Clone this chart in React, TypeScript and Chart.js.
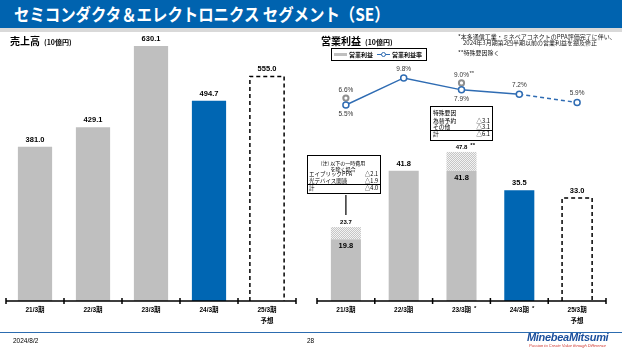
import React, { useEffect, useRef } from 'react';
import { Chart, registerables } from 'chart.js';

Chart.register(...registerables);

// ---------------- data ----------------
const CATEGORIES = ['21/3期', '22/3期', '23/3期', '24/3期', '25/3期'];
const CATEGORY_SUB = ['', '', '', '', '予想'];
const SALES_CATEGORY_MARK = ['', '', '', '', ''];
const OP_CATEGORY_MARK = ['', '', '*', '*', ''];
const BAR_KIND = ['past', 'past', 'past', 'current', 'forecast'];
const SALES = [381.0, 429.1, 630.1, 494.7, 555.0];
const OP_PROFIT = [19.8, 41.8, 41.8, 35.5, 33.0];
const OP_SPECIAL = [3.9, 0, 6.0, 0, 0];
const OP_TOTAL_MARK = ['', '', '**', '', ''];
const OP_MARGIN = [5.5, 9.8, 7.9, 7.2, 5.9];
const OP_MARGIN_LABEL_POS = ['below', 'above', 'below', 'above', 'above'];
const OP_MARGIN_EX = [6.6, null, 9.0, null, null];
const OP_MARGIN_EX_MARK = ['', '', '**', '', ''];
const NOTE1_HEAD = ['(注) 以下の一時費用', 'を除く場合'];
const NOTE1_ROWS = [['エイブリックPPA', '△2.1'], ['光デバイス関連', '△1.9']];
const NOTE1_TOTAL = ['計', '△4.0'];
const NOTE2_HEAD = '特殊要因';
const NOTE2_ROWS = [['為替予約', '△3.1'], ['その他', '△3.1']];
const NOTE2_TOTAL = ['計', '△6.1'];

// ---------------- style ----------------
const FONT = '"Liberation Sans", "Noto Sans CJK JP", sans-serif';
const JP = '"Noto Sans CJK JP", "Liberation Sans", sans-serif';
const GRAY = '#bfbfbf';
const BLUE = '#0066b3';
const LINE_BLUE = '#2f6cb3';
const EX_GRAY = '#8f8f8f';

const barColor = (k: string) => (k === 'past' ? GRAY : k === 'current' ? BLUE : 'rgba(0,0,0,0)');

function makePattern(): CanvasPattern | string {
  const c = document.createElement('canvas');
  c.width = 2;
  c.height = 2;
  const g = c.getContext('2d');
  if (!g) return '#e0e0e0';
  g.fillStyle = '#f3f3f3';
  g.fillRect(0, 0, 2, 2);
  g.fillStyle = '#c6c6c6';
  g.fillRect(0, 0, 1, 1);
  g.fillRect(1, 1, 1, 1);
  return g.createPattern(c, 'repeat') || '#e0e0e0';
}

const axisPlugin = (marks: string[]) => ({
  id: 'customAxis',
  afterDraw(chart: any) {
    const { ctx, chartArea } = chart;
    const { left, right, bottom } = chartArea;
    const xs = chart.scales.x;
    const n = CATEGORIES.length;
    ctx.save();
    ctx.setLineDash([]);
    ctx.strokeStyle = '#000';
    ctx.lineWidth = 1.5;
    ctx.beginPath();
    ctx.moveTo(left, bottom);
    ctx.lineTo(right, bottom);
    for (let i = 0; i <= n; i++) {
      const x =
        i === 0 ? left : i === n ? right : (xs.getPixelForValue(i - 1) + xs.getPixelForValue(i)) / 2;
      ctx.moveTo(x, bottom - 3);
      ctx.lineTo(x, bottom + 3);
    }
    ctx.stroke();
    ctx.fillStyle = '#000';
    ctx.textBaseline = 'middle';
    CATEGORIES.forEach((c, i) => {
      const x = xs.getPixelForValue(i);
      ctx.font = `bold 6.5px ${FONT}`;
      ctx.textAlign = 'center';
      ctx.fillText(c, x, bottom + 9);
      const w = ctx.measureText(c).width;
      if (marks[i]) {
        ctx.font = `bold 6px ${FONT}`;
        ctx.textAlign = 'left';
        ctx.fillText(marks[i], x + w / 2 + 3, bottom + 7);
      }
      if (CATEGORY_SUB[i]) {
        ctx.font = `bold 6.5px ${FONT}`;
        ctx.textAlign = 'center';
        ctx.fillText(CATEGORY_SUB[i], x, bottom + 20);
      }
    });
    ctx.restore();
  },
});

const forecastOutline = (datasetIndex: number) => ({
  id: 'forecastOutline',
  afterDatasetsDraw(chart: any) {
    const meta = chart.getDatasetMeta(datasetIndex);
    const ctx = chart.ctx;
    ctx.save();
    ctx.strokeStyle = '#000';
    ctx.lineWidth = 1.5;
    ctx.setLineDash([4, 3]);
    meta.data.forEach((bar: any, i: number) => {
      if (BAR_KIND[i] !== 'forecast') return;
      const { x, y, base, width } = bar.getProps(['x', 'y', 'base', 'width'], true);
      ctx.beginPath();
      ctx.moveTo(x - width / 2, base);
      ctx.lineTo(x - width / 2, y);
      ctx.lineTo(x + width / 2, y);
      ctx.lineTo(x + width / 2, base);
      ctx.stroke();
    });
    ctx.restore();
  },
});

const salesLabels = {
  id: 'salesLabels',
  afterDatasetsDraw(chart: any) {
    const meta = chart.getDatasetMeta(0);
    const ctx = chart.ctx;
    ctx.save();
    ctx.fillStyle = '#000';
    ctx.font = `bold 7.5px ${FONT}`;
    ctx.textAlign = 'center';
    ctx.textBaseline = 'middle';
    meta.data.forEach((bar: any, i: number) => {
      ctx.fillText(SALES[i].toFixed(1), bar.x, bar.y - 7);
    });
    ctx.restore();
  },
};

// note connector bottoms in canvas coordinates (layout only)
const NOTE_ANCHORS = [
  { index: 0, fromY: 163 },
  { index: 2, fromY: 109 },
];

const opLabels = {
  id: 'opLabels',
  afterDatasetsDraw(chart: any) {
    const ctx = chart.ctx;
    const lineMeta = chart.getDatasetMeta(0);
    const exMeta = chart.getDatasetMeta(1);
    const solidMeta = chart.getDatasetMeta(2);
    const extraMeta = chart.getDatasetMeta(3);
    ctx.save();
    ctx.fillStyle = '#000';
    ctx.textBaseline = 'middle';
    solidMeta.data.forEach((bar: any, i: number) => {
      const x = bar.x;
      if (OP_SPECIAL[i] > 0) {
        const top = extraMeta.data[i].y;
        const total = (OP_PROFIT[i] + OP_SPECIAL[i]).toFixed(1);
        ctx.font = `bold 6px ${FONT}`;
        ctx.textAlign = 'center';
        ctx.fillText(total, x, top - 5);
        if (OP_TOTAL_MARK[i]) {
          const w = ctx.measureText(total).width;
          ctx.textAlign = 'left';
          ctx.fillText(OP_TOTAL_MARK[i], x + w / 2 + 3, top - 7);
        }
        ctx.font = `bold 7.5px ${FONT}`;
        ctx.textAlign = 'center';
        ctx.fillText(OP_PROFIT[i].toFixed(1), x, bar.y + 7);
      } else {
        ctx.font = `bold 7.5px ${FONT}`;
        ctx.textAlign = 'center';
        ctx.fillText(OP_PROFIT[i].toFixed(1), x, bar.y - 7);
      }
    });
    ctx.strokeStyle = '#000';
    ctx.lineWidth = 1.2;
    ctx.setLineDash([]);
    NOTE_ANCHORS.forEach(({ index, fromY }) => {
      const x = solidMeta.data[index].x;
      const toY = extraMeta.data[index].y - 12;
      if (toY > fromY) {
        ctx.beginPath();
        ctx.moveTo(x, fromY);
        ctx.lineTo(x, toY);
        ctx.stroke();
      }
    });
    ctx.fillStyle = '#333';
    ctx.font = `6.5px ${FONT}`;
    ctx.textAlign = 'center';
    lineMeta.data.forEach((pt: any, i: number) => {
      const dy = OP_MARGIN_LABEL_POS[i] === 'above' ? -9 : 9;
      ctx.fillText(OP_MARGIN[i].toFixed(1) + '%', pt.x, pt.y + dy);
    });
    exMeta.data.forEach((pt: any, i: number) => {
      const v = OP_MARGIN_EX[i];
      if (v == null) return;
      const t = v.toFixed(1) + '%';
      ctx.font = `6.5px ${FONT}`;
      ctx.textAlign = 'center';
      ctx.fillText(t, pt.x, pt.y - 8);
      if (OP_MARGIN_EX_MARK[i]) {
        const w = ctx.measureText(t).width;
        ctx.textAlign = 'left';
        ctx.font = `6px ${FONT}`;
        ctx.fillText(OP_MARGIN_EX_MARK[i], pt.x + w / 2 + 0.5, pt.y - 10);
      }
    });
    ctx.restore();
  },
};

// ---------------- small html helpers ----------------
function T(props: {
  x: number;
  y: number;
  size: number;
  bold?: boolean;
  color?: string;
  align?: 'left' | 'center' | 'right';
  font?: string;
  style?: React.CSSProperties;
  children: React.ReactNode;
}) {
  const { x, y, size, bold, color, align = 'left', font, style, children } = props;
  const W = 400;
  const left = align === 'center' ? x - W / 2 : align === 'right' ? x - W : x;
  return (
    <div
      style={{
        position: 'absolute',
        left,
        width: align === 'left' ? undefined : W,
        textAlign: align,
        top: y - size,
        height: size * 2,
        lineHeight: `${size * 2}px`,
        fontSize: size,
        fontWeight: bold ? 700 : 400,
        color: color || '#000',
        fontFamily: font || FONT,
        whiteSpace: 'nowrap',
        ...style,
      }}
    >
      {children}
    </div>
  );
}

function Box(props: { left: number; top: number; width: number; height: number; children?: React.ReactNode }) {
  const { left, top, width, height, children } = props;
  return (
    <div
      style={{
        position: 'absolute',
        left,
        top,
        width,
        height,
        border: '1.5px solid #000',
        boxSizing: 'border-box',
        background: '#fff',
      }}
    >
      {children}
    </div>
  );
}

export default function App() {
  const leftRef = useRef<HTMLCanvasElement | null>(null);
  const rightRef = useRef<HTMLCanvasElement | null>(null);

  useEffect(() => {
    if (!leftRef.current || !rightRef.current) return;
    const left = new Chart(leftRef.current, {
      type: 'bar',
      data: {
        labels: CATEGORIES,
        datasets: [
          {
            label: '売上高',
            data: SALES,
            backgroundColor: BAR_KIND.map(barColor),
            borderWidth: 0,
            barPercentage: 0.59,
            categoryPercentage: 1,
          },
        ],
      },
      options: {
        responsive: false,
        animation: false,
        devicePixelRatio: 1,
        layout: { padding: { left: 6, right: 9, top: 12, bottom: 49 } },
        plugins: { legend: { display: false }, tooltip: { enabled: false } },
        scales: {
          x: { display: false },
          y: { display: false, min: 0, max: 635 },
        },
      },
      plugins: [forecastOutline(0), salesLabels, axisPlugin(SALES_CATEGORY_MARK)],
    } as any);

    const pattern = makePattern();
    const right = new Chart(rightRef.current, {
      type: 'bar',
      data: {
        labels: CATEGORIES,
        datasets: [
          {
            type: 'line',
            label: '営業利益率',
            data: OP_MARGIN,
            yAxisID: 'y2',
            borderColor: LINE_BLUE,
            borderWidth: 1.5,
            pointRadius: 3,
            pointBackgroundColor: '#fff',
            pointBorderColor: LINE_BLUE,
            pointBorderWidth: 1.5,
            tension: 0,
            order: 0,
            segment: {
              borderDash: (c: any) => (BAR_KIND[c.p1DataIndex] === 'forecast' ? [4, 3] : undefined),
            },
          },
          {
            type: 'line',
            label: '営業利益率(特殊要因除く)',
            data: OP_MARGIN_EX,
            yAxisID: 'y2',
            showLine: false,
            pointRadius: 2.6,
            pointBackgroundColor: '#fff',
            pointBorderColor: EX_GRAY,
            pointBorderWidth: 2,
            order: 1,
          },
          {
            type: 'bar',
            label: '営業利益',
            data: OP_PROFIT,
            yAxisID: 'y',
            stack: 'op',
            backgroundColor: BAR_KIND.map(barColor),
            borderWidth: 0,
            barPercentage: 0.52,
            categoryPercentage: 1,
            order: 2,
          },
          {
            type: 'bar',
            label: '特殊要因',
            data: OP_SPECIAL,
            yAxisID: 'y',
            stack: 'op',
            backgroundColor: pattern,
            borderWidth: 0,
            barPercentage: 0.52,
            categoryPercentage: 1,
            order: 2,
          },
        ],
      },
      options: {
        responsive: false,
        animation: false,
        devicePixelRatio: 1,
        layout: { padding: { left: 12, right: 16, top: 12, bottom: 49 } },
        plugins: { legend: { display: false }, tooltip: { enabled: false } },
        scales: {
          x: { display: false, stacked: true },
          y: { display: false, stacked: true, min: 0, max: 82.4 },
          y2: { display: false, position: 'right', min: -25.7, max: 15.2 },
        },
      },
      plugins: [forecastOutline(2), opLabels, axisPlugin(OP_CATEGORY_MARK)],
    } as any);

    return () => {
      left.destroy();
      right.destroy();
    };
  }, []);

  return (
    <div
      style={{
        position: 'fixed',
        left: 0,
        top: 0,
        width: 622,
        height: 350,
        overflow: 'hidden',
        background: '#fff',
        fontFamily: FONT,
      }}
    >
      {/* header */}
      <div style={{ position: 'absolute', left: 0, top: 0, width: 622, height: 28, background: '#0063af' }} />
      <div style={{ position: 'absolute', left: 0, top: 28, width: 622, height: 4, background: '#d9d9d9' }} />
      <div
        style={{
          position: 'absolute',
          left: 14,
          top: 0,
          height: 28,
          lineHeight: '28px',
          color: '#fff',
          fontFamily: JP,
          fontWeight: 700,
          fontSize: 17.5,
          transform: 'scaleX(0.88)',
          transformOrigin: 'left center',
          whiteSpace: 'nowrap',
        }}
      >
        セミコンダクタ＆エレクトロニクス セグメント（SE）
      </div>

      {/* charts */}
      <canvas ref={leftRef} width={305} height={318} style={{ position: 'absolute', left: 0, top: 32, width: 305, height: 318 }} />
      <canvas ref={rightRef} width={317} height={318} style={{ position: 'absolute', left: 305, top: 32, width: 317, height: 318 }} />

      {/* headings */}
      <T x={10} y={41} size={10} bold font={JP}>
        売上高
      </T>
      <T x={44} y={42} size={7} bold font={JP}>
        (10億円)
      </T>
      <T x={321} y={41} size={10} bold font={JP}>
        営業利益
      </T>
      <T x={365} y={42} size={7} bold font={JP}>
        (10億円)
      </T>

      {/* legend */}
      <div
        style={{
          position: 'absolute',
          left: 331,
          top: 48,
          width: 96,
          height: 13,
          border: '1.5px solid #000',
          boxSizing: 'border-box',
        }}
      />
      <div style={{ position: 'absolute', left: 334, top: 52.5, width: 13, height: 3.5, background: GRAY }} />
      <T x={349} y={54.5} size={6} bold font={JP}>
        営業利益
      </T>
      <div style={{ position: 'absolute', left: 377, top: 53.7, width: 13, height: 1.6, background: LINE_BLUE }} />
      <div
        style={{
          position: 'absolute',
          left: 381,
          top: 52,
          width: 5,
          height: 5,
          borderRadius: '50%',
          border: `1.3px solid ${LINE_BLUE}`,
          background: '#fff',
          boxSizing: 'border-box',
        }}
      />
      <T x={392} y={54.5} size={6} bold font={JP}>
        営業利益率
      </T>

      {/* top right notes */}
      <T x={458} y={37} size={6} font={JP} color="#222">
        *本多通信工業・ミネベアコネクトのPPA評価完了に伴い、
      </T>
      <T x={463} y={43} size={6} font={JP} color="#222">
        2024年3月期第2四半期以前の営業利益を遡及修正
      </T>
      <T x={458} y={53} size={6} font={JP} color="#222">
        **特殊要因除く
      </T>

      {/* note box 1 */}
      <Box left={307} top={155} width={74} height={39}>
        <T x={35} y={7} size={5} align="center" font={JP}>
          {NOTE1_HEAD[0]}
        </T>
        <T x={35} y={12.5} size={5} align="center" font={JP}>
          {NOTE1_HEAD[1]}
        </T>
        {NOTE1_ROWS.map((r, i) => (
          <React.Fragment key={i}>
            <T x={1} y={18 + i * 7.3} size={5.5} font={JP}>
              {r[0]}
            </T>
            <T x={70} y={18 + i * 7.3} size={5.5} align="right" font={JP}>
              {r[1]}
            </T>
          </React.Fragment>
        ))}
        <div style={{ position: 'absolute', left: 0, right: 0, top: 27.5, height: 1, background: '#000' }} />
        <T x={1} y={32} size={5.5} font={JP}>
          {NOTE1_TOTAL[0]}
        </T>
        <T x={70} y={32} size={5.5} align="right" font={JP}>
          {NOTE1_TOTAL[1]}
        </T>
      </Box>

      {/* note box 2 */}
      <Box left={430} top={106} width={63} height={35}>
        <T x={2} y={5.5} size={5.8} font={JP}>
          {NOTE2_HEAD}
        </T>
        {NOTE2_ROWS.map((r, i) => (
          <React.Fragment key={i}>
            <T x={2} y={13.5 + i * 6.7} size={5.8} font={JP}>
              {r[0]}
            </T>
            <T x={59} y={13.5 + i * 6.7} size={5.8} align="right" font={JP}>
              {r[1]}
            </T>
          </React.Fragment>
        ))}
        <div style={{ position: 'absolute', left: 0, right: 0, top: 23.2, height: 1, background: '#000' }} />
        <T x={2} y={27} size={5.8} font={JP}>
          {NOTE2_TOTAL[0]}
        </T>
        <T x={59} y={27} size={5.8} align="right" font={JP}>
          {NOTE2_TOTAL[1]}
        </T>
      </Box>

      {/* footer */}
      <div style={{ position: 'absolute', left: 0, top: 331.5, width: 622, height: 1.5, background: '#2c6cb0' }} />
      <T x={13} y={340} size={6.5}>
        2024/8/2
      </T>
      <T x={307} y={340} size={6.5}>
        28
      </T>
      <T
        x={527}
        y={337}
        size={11}
        bold
        color="#1b4f9c"
        style={{ fontStyle: 'italic', letterSpacing: -0.3 }}
      >
        MinebeaMitsumi
      </T>
      <T x={529} y={345.5} size={4} color="#d0342c" style={{ fontStyle: 'italic' }}>
        Passion to Create Value through Difference
      </T>
    </div>
  );
}
